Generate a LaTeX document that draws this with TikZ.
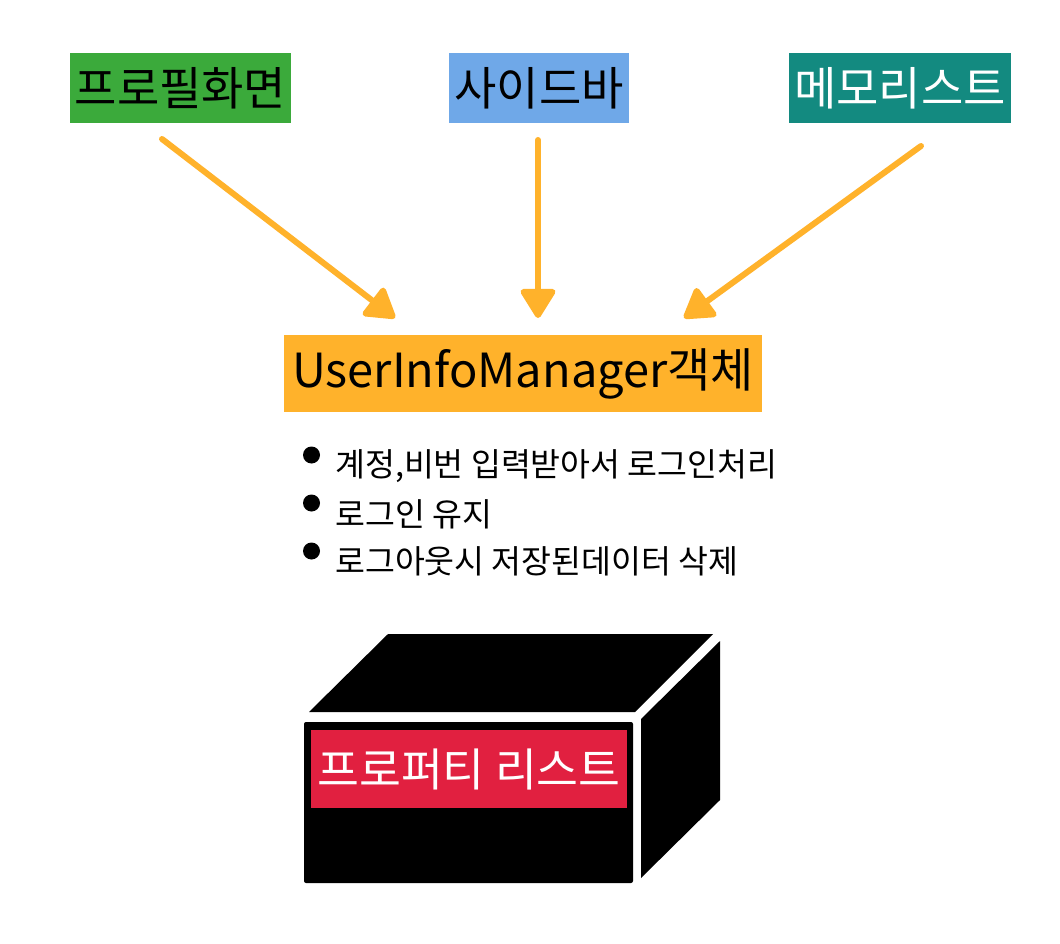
\documentclass[tikz,border=0pt]{standalone}
\usepackage{fontspec}
\setmainfont{Noto Sans CJK KR}
\usetikzlibrary{arrows.meta}
\definecolor{cgreen}{RGB}{59,170,59}
\definecolor{cblue}{RGB}{111,168,232}
\definecolor{cteal}{RGB}{19,138,128}
\definecolor{corange}{RGB}{255,178,43}
\definecolor{cred}{RGB}{225,32,64}
\tikzset{
  label box/.style={inner sep=0pt, minimum height=70pt, font=\fontsize{46}{46}\selectfont},
  crayon/.style={draw=corange, line width=6pt, line cap=round, -{Triangle[width=38pt,length=32pt,round]}},
  bullet text/.style={anchor=west, inner sep=0pt, font=\fontsize{32.5}{32.5}\selectfont},
  bulletdot/.style={fill=black, circle, inner sep=0pt, minimum size=17pt},
}
\begin{document}
\begin{tikzpicture}[x=1pt,y=-1pt]
\useasboundingbox (0,0) rectangle (1060,944);
\fill[white] (0,0) rectangle (1060,944);
% top labels
\node[label box, fill=cgreen, minimum width=221pt] (profile) at (180.5,88) {프로필화면};
\node[label box, fill=cblue, minimum width=180pt] (sidebar) at (539,88) {사이드바};
\node[label box, fill=cteal, minimum width=222pt, text=white] (memo) at (900,88) {메모리스트};
% manager
\node[fill=corange, inner sep=0pt, minimum width=478pt, minimum height=77pt, font=\fontsize{47}{47}\selectfont] (mgr) at (523,373.5) {UserInfoManager객체};
% arrows
\coordinate (a1s) at (162,139);
\coordinate (a1e) at (395,318);
\coordinate (a2s) at (538,140);
\coordinate (a2e) at (538,318);
\coordinate (a3s) at (921,146);
\coordinate (a3e) at (684,318);
\draw[crayon] (a1s) -- (a1e);
\draw[crayon] (a2s) -- (a2e);
\draw[crayon] (a3s) -- (a3e);
% bullets
\node[bulletdot] (b1) at (311.5,455) {};
\node[bulletdot] (b2) at (311.5,503) {};
\node[bulletdot] (b3) at (311.5,551) {};
\node[bullet text] (t1) at (335,466) {계정,비번 입력받아서 로그인처리};
\node[bullet text] (t2) at (335,514) {로그인 유지};
\node[bullet text] (t3) at (335,561) {로그아웃시 저장된데이터 삭제};
% box
\fill[black] (309,712) -- (388,634) -- (713,634) -- (635,712) -- cycle;
\fill[black] (641,719) -- (720,641) -- (720,800) -- (641,878) -- cycle;
\fill[black, rounded corners=2pt] (304,722) rectangle (633,883);
\node[fill=cred, text=white, inner sep=0pt, minimum width=316pt, minimum height=78pt, font=\fontsize{45.5}{45.5}\selectfont] (prop) at (469,769) {프로퍼티 리스트};
\end{tikzpicture}
\end{document}
